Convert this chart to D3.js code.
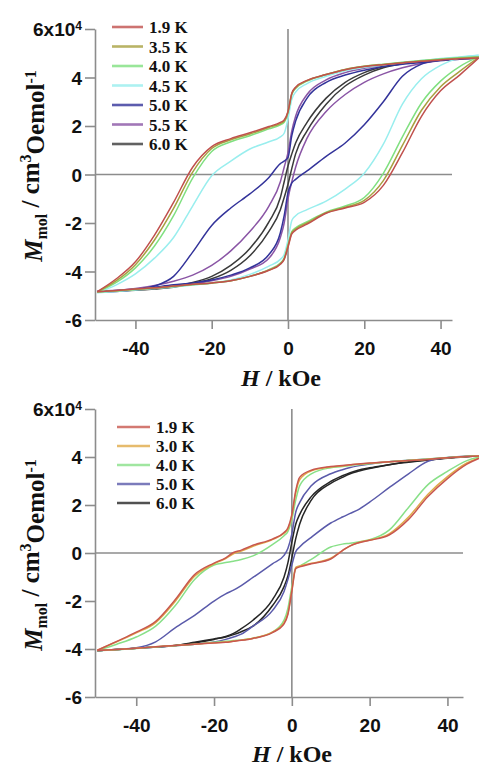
<!DOCTYPE html>
<html>
<head>
<meta charset="utf-8">
<script src="https://cdn.jsdelivr.net/npm/d3@7"></script>
<style>
  html, body { margin: 0; padding: 0; background: #fff; }
  svg { display: block; }
</style>
</head>
<body>
<div id="chart"></div>
<script>
// Field grids (kOe)
const fieldTop = [-50, -45, -40, -35, -30, -25, -20, -15, -10, -5, -2, -1, 0, 1, 2, 5, 10, 15, 20, 25, 30, 35, 40, 45, 50]
const fieldBottom = [-50, -45, -40, -35, -30, -25, -20, -17, -15, -13, -10, -5, -2, -1, 0, 1, 2, 5, 10, 13, 15, 17, 20, 25, 30, 35, 40, 45, 50]

const xTicks = [-40, -20, 0, 20, 40]
const yTicks = [-6, -4, -2, 0, 2, 4, 6]

// Top panel — M in 1e4 cm3 Oe mol-1. Dec = field sweeping down, Inc = sweeping up
const topLabels = ['1.9 K', '3.5 K', '4.0 K', '4.5 K', '5.0 K', '5.5 K', '6.0 K']
const topColors = ['#c0504d', '#a8a040', '#80e080', '#99eeee', '#33339a', '#8a55a5', '#3a3a3a']

const top19Dec = [-4.83, -4.3, -3.6, -2.5, -1.15, 0.3, 1.15, 1.48, 1.72, 1.98, 2.15, 2.25, 2.6, 3.35, 3.6, 3.88, 4.12, 4.32, 4.45, 4.53, 4.6, 4.67, 4.72, 4.77, 4.8]
const top19Inc = [-4.83, -4.78, -4.72, -4.67, -4.6, -4.53, -4.47, -4.38, -4.2, -3.95, -3.7, -3.5, -3.0, -2.45, -2.3, -2.05, -1.6, -1.38, -1.15, -0.45, 0.9, 2.4, 3.45, 4.1, 4.8]
const top35Dec = [-4.84, -4.38, -3.72, -2.7, -1.4, 0.1, 1.07, 1.43, 1.67, 1.94, 2.1, 2.2, 2.58, 3.33, 3.58, 3.87, 4.12, 4.33, 4.46, 4.54, 4.61, 4.68, 4.74, 4.79, 4.83]
const top35Inc = [-4.84, -4.79, -4.73, -4.68, -4.61, -4.54, -4.47, -4.38, -4.2, -3.94, -3.68, -3.48, -2.95, -2.4, -2.25, -2.0, -1.58, -1.35, -1.07, -0.25, 1.2, 2.65, 3.62, 4.25, 4.83]
const top40Dec = [-4.85, -4.45, -3.85, -2.95, -1.7, -0.15, 0.95, 1.35, 1.6, 1.88, 2.05, 2.15, 2.55, 3.3, 3.55, 3.85, 4.12, 4.33, 4.46, 4.55, 4.63, 4.7, 4.76, 4.82, 4.86]
const top40Inc = [-4.85, -4.8, -4.74, -4.68, -4.62, -4.55, -4.48, -4.38, -4.2, -3.92, -3.65, -3.45, -2.9, -2.35, -2.2, -1.95, -1.55, -1.3, -0.95, 0.05, 1.55, 2.95, 3.85, 4.45, 4.86]
const top45Dec = [-4.88, -4.55, -4.1, -3.45, -2.6, -1.3, -0.05, 0.55, 1.05, 1.35, 1.55, 1.7, 2.3, 3.1, 3.4, 3.75, 4.05, 4.28, 4.42, 4.52, 4.62, 4.7, 4.78, 4.85, 4.92]
const top45Inc = [-4.88, -4.82, -4.76, -4.7, -4.64, -4.56, -4.47, -4.35, -4.12, -3.78, -3.5, -3.3, -2.7, -1.9, -1.7, -1.45, -1.1, -0.6, 0.05, 1.25, 2.9, 3.95, 4.5, 4.8, 4.92]
const top50Dec = [-4.85, -4.82, -4.75, -4.6, -4.2, -3.2, -2.1, -1.38, -0.8, -0.12, 0.45, 0.55, 0.7, 1.6, 2.2, 3.15, 3.8, 4.1, 4.3, 4.45, 4.55, 4.62, 4.7, 4.75, 4.8]
const top50Inc = [-4.85, -4.8, -4.75, -4.65, -4.55, -4.47, -4.35, -4.15, -3.85, -3.3, -2.4, -1.7, -0.75, -0.35, -0.2, 0.15, 0.75, 1.3, 2.05, 3.0, 4.05, 4.55, 4.72, 4.8, 4.85]
const top55Dec = [-4.83, -4.78, -4.7, -4.58, -4.4, -4.15, -3.75, -3.15, -2.35, -1.3, -0.3, 0.3, 0.9, 1.8, 2.4, 3.3, 3.9, 4.2, 4.38, 4.5, 4.6, 4.66, 4.72, 4.77, 4.8]
const top55Inc = [-4.8, -4.77, -4.72, -4.66, -4.6, -4.5, -4.38, -4.2, -3.9, -3.45, -2.6, -2.0, -1.0, -0.3, 0.3, 1.5, 2.6, 3.3, 3.8, 4.15, 4.4, 4.58, 4.7, 4.78, 4.83]
const top60Dec = [-4.83, -4.8, -4.75, -4.68, -4.6, -4.45, -4.2, -3.75, -3.05, -1.95, -0.95, -0.3, 0.35, 0.85, 1.3, 2.15, 3.15, 3.8, 4.2, 4.45, 4.6, 4.68, 4.75, 4.79, 4.82]
const top60Inc = [-4.83, -4.8, -4.77, -4.72, -4.65, -4.5, -4.3, -3.95, -3.35, -2.35, -1.45, -0.95, -0.4, 0.25, 0.85, 1.8, 2.9, 3.65, 4.1, 4.4, 4.57, 4.67, 4.73, 4.78, 4.82]

// Bottom panel
const bottomLabels = ['1.9 K', '3.0 K', '4.0 K', '5.0 K', '6.0 K']
const bottomColors = ['#c8574f', '#e0aa48', '#88e088', '#5a5aaa', '#262626']

const bot19Dec = [-4.05, -3.68, -3.3, -2.85, -1.95, -0.9, -0.42, -0.2, 0.02, 0.12, 0.32, 0.58, 0.85, 1.05, 1.6, 2.6, 3.15, 3.45, 3.6, 3.65, 3.68, 3.71, 3.75, 3.8, 3.85, 3.9, 3.97, 4.02, 4.06]
const bot19Inc = [-4.06, -4.02, -3.97, -3.91, -3.85, -3.8, -3.75, -3.72, -3.68, -3.64, -3.56, -3.32, -2.95, -2.55, -1.6, -0.65, -0.58, -0.45, -0.25, 0.1, 0.3, 0.42, 0.53, 0.75, 1.4, 2.35, 3.1, 3.7, 4.06]
const bot30Dec = [-4.05, -3.7, -3.33, -2.9, -2.02, -0.97, -0.45, -0.23, -0.03, 0.08, 0.28, 0.56, 0.82, 1.0, 1.55, 2.5, 3.05, 3.42, 3.58, 3.63, 3.67, 3.7, 3.74, 3.8, 3.85, 3.91, 3.97, 4.02, 4.06]
const bot30Inc = [-4.06, -4.02, -3.97, -3.91, -3.85, -3.8, -3.74, -3.71, -3.67, -3.63, -3.55, -3.3, -2.9, -2.5, -1.55, -0.6, -0.54, -0.43, -0.22, 0.1, 0.3, 0.43, 0.54, 0.8, 1.5, 2.45, 3.18, 3.75, 4.06]
const bot40Dec = [-4.06, -3.8, -3.5, -3.05, -2.2, -1.1, -0.5, -0.4, -0.34, -0.27, -0.12, 0.35, 0.72, 0.9, 1.4, 2.2, 2.8, 3.3, 3.55, 3.6, 3.65, 3.68, 3.72, 3.8, 3.86, 3.92, 3.98, 4.03, 4.07]
const bot40Inc = [-4.07, -4.03, -3.98, -3.92, -3.86, -3.8, -3.72, -3.68, -3.65, -3.62, -3.55, -3.3, -2.8, -2.3, -1.4, -0.65, -0.55, -0.27, 0.25, 0.37, 0.41, 0.46, 0.55, 0.95, 1.9, 2.85, 3.4, 3.85, 4.07]
const bot50Dec = [-4.07, -4.02, -3.95, -3.7, -3.12, -2.6, -2.0, -1.7, -1.55, -1.36, -1.02, -0.45, -0.1, 0.2, 0.8, 1.7, 2.1, 2.8, 3.3, 3.47, 3.56, 3.63, 3.71, 3.8, 3.86, 3.92, 3.97, 4.02, 4.07]
const bot50Inc = [-4.07, -4.02, -3.97, -3.92, -3.86, -3.8, -3.71, -3.6, -3.5, -3.38, -3.05, -2.4, -1.6, -1.1, -0.5, 0.05, 0.25, 0.65, 1.25, 1.5, 1.65, 1.8, 2.12, 2.72, 3.3, 3.82, 3.98, 4.03, 4.07]
const bot60Dec = [-4.07, -4.02, -3.97, -3.92, -3.85, -3.75, -3.6, -3.48, -3.35, -3.15, -2.8, -1.95, -1.0, -0.4, 0.45, 1.2, 1.6, 2.35, 2.98, 3.22, 3.35, 3.45, 3.55, 3.68, 3.8, 3.88, 3.96, 4.02, 4.07]
const bot60Inc = [-4.07, -4.02, -3.97, -3.92, -3.85, -3.72, -3.58, -3.5, -3.4, -3.28, -3.05, -2.2, -1.4, -0.95, -0.2, 0.6, 1.2, 2.2, 2.9, 3.15, 3.3, 3.4, 3.52, 3.68, 3.78, 3.87, 3.95, 4.01, 4.07]

const W = 479, H = 769
const axisColor = '#8c8c8c'

const panels = [
  {
    field: fieldTop, labels: topLabels, colors: topColors,
    dec: [top19Dec, top35Dec, top40Dec, top45Dec, top50Dec, top55Dec, top60Dec],
    inc: [top19Inc, top35Inc, top40Inc, top45Inc, top50Inc, top55Inc, top60Inc],
    xDomain: [-50.6, 43], xRange: [95, 452], yRange: [320, 29],
    legend: { x: 112, y: 27, step: 19.5, len: 31 },
    xTitle: { x: 281, y: 386 }, yTitle: { x: 42, y: 166 }
  },
  {
    field: fieldBottom, labels: bottomLabels, colors: bottomColors,
    dec: [bot19Dec, bot30Dec, bot40Dec, bot50Dec, bot60Dec],
    inc: [bot19Inc, bot30Inc, bot40Inc, bot50Inc, bot60Inc],
    xDomain: [-50.6, 44], xRange: [95, 463], yRange: [697, 409],
    legend: { x: 117, y: 427, step: 19, len: 33 },
    xTitle: { x: 292, y: 762 }, yTitle: { x: 42, y: 555 }
  }
]

const svg = d3.select('#chart').append('svg')
  .attr('width', W)
  .attr('height', H)

function drawPanel(p) {
  const x = d3.scaleLinear().domain(p.xDomain).range(p.xRange)
  const y = d3.scaleLinear().domain([-6, 6]).range(p.yRange)
  const g = svg.append('g')

  // zero lines
  g.append('line')
    .attr('x1', x(p.xDomain[0])).attr('x2', x(p.xDomain[1]))
    .attr('y1', y(0)).attr('y2', y(0))
    .attr('stroke', axisColor).attr('stroke-width', 1.6)
  g.append('line')
    .attr('x1', x(0)).attr('x2', x(0))
    .attr('y1', y(6)).attr('y2', y(-6))
    .attr('stroke', axisColor).attr('stroke-width', 1.6)

  // x axis
  const xAxis = g.append('g')
    .attr('transform', `translate(0,${y(-6)})`)
    .call(d3.axisBottom(x).tickValues(xTicks).tickSize(9).tickSizeOuter(0).tickFormat(d => String(d)))
  xAxis.selectAll('text')
    .attr('y', 35).attr('dy', 0)
    .attr('fill', '#111')
    .attr('font-family', 'Liberation Sans, Arial, sans-serif')
    .attr('font-weight', 'bold')
    .attr('font-size', 19)

  // y axis
  const yAxis = g.append('g')
    .attr('transform', `translate(${x(p.xDomain[0])},0)`)
    .call(d3.axisLeft(y).tickValues(yTicks).tickSize(10).tickSizeOuter(0).tickFormat(d => d === 6 ? '6x10' : String(d)))
  yAxis.selectAll('text')
    .attr('x', -13)
    .attr('dy', '0.36em')
    .attr('fill', '#111')
    .attr('font-family', 'Liberation Sans, Arial, sans-serif')
    .attr('font-weight', 'bold')
    .attr('font-size', 19)
  yAxis.selectAll('.tick text').filter(d => d === 6)
    .append('tspan')
    .attr('dy', '-0.55em')
    .attr('font-size', 12)
    .text('4')

  ;[xAxis, yAxis].forEach(a => {
    a.selectAll('.domain, .tick line').attr('stroke', axisColor).attr('stroke-width', 1.6)
  })

  // curves, high T first so 1.9 K ends on top
  const line = d3.line()
    .x(d => x(d[0]))
    .y(d => y(d[1]))
    .curve(d3.curveMonotoneX)

  const order = d3.range(p.labels.length).reverse()
  order.forEach(i => {
    ;[p.dec[i], p.inc[i]].forEach(vals => {
      g.append('path')
        .datum(p.field.map((h, k) => [h, vals[k]]))
        .attr('d', line)
        .attr('fill', 'none')
        .attr('stroke', p.colors[i])
        .attr('stroke-width', 1.5)
        .attr('stroke-linejoin', 'round')
    })
  })

  // legend
  const lg = g.append('g')
  p.labels.forEach((lab, i) => {
    const ly = p.legend.y + i * p.legend.step
    lg.append('line')
      .attr('x1', p.legend.x).attr('x2', p.legend.x + p.legend.len)
      .attr('y1', ly).attr('y2', ly)
      .attr('stroke', p.colors[i])
      .attr('stroke-opacity', 0.8)
      .attr('stroke-width', 2.6)
    lg.append('text')
      .attr('x', p.legend.x + p.legend.len + 6)
      .attr('y', ly + 6)
      .attr('font-family', 'Liberation Serif, Times New Roman, serif')
      .attr('font-weight', 'bold')
      .attr('font-size', 17)
      .attr('fill', '#111')
      .text(lab)
  })

  // axis titles
  const xt = g.append('text')
    .attr('x', p.xTitle.x).attr('y', p.xTitle.y)
    .attr('text-anchor', 'middle')
    .attr('font-family', 'Liberation Serif, Times New Roman, serif')
    .attr('font-weight', 'bold')
    .attr('font-size', 24)
    .attr('fill', '#111')
  xt.append('tspan').attr('font-style', 'italic').text('H')
  xt.append('tspan').text(' / kOe')

  const yt = g.append('text')
    .attr('transform', `translate(${p.yTitle.x},${p.yTitle.y}) rotate(-90)`)
    .attr('text-anchor', 'middle')
    .attr('font-family', 'Liberation Serif, Times New Roman, serif')
    .attr('font-weight', 'bold')
    .attr('font-size', 25)
    .attr('fill', '#111')
  yt.append('tspan').attr('font-style', 'italic').text('M')
  yt.append('tspan').attr('font-size', 16).attr('dy', '0.3em').text('mol')
  yt.append('tspan').attr('dy', '-0.3em').text(' / cm')
  yt.append('tspan').attr('font-size', 16).attr('dy', '-0.5em').text('3')
  yt.append('tspan').attr('dy', '0.5em').text('Oemol')
  yt.append('tspan').attr('font-size', 16).attr('dy', '-0.5em').text('-1')
}

panels.forEach(drawPanel)
</script>
</body>
</html>
